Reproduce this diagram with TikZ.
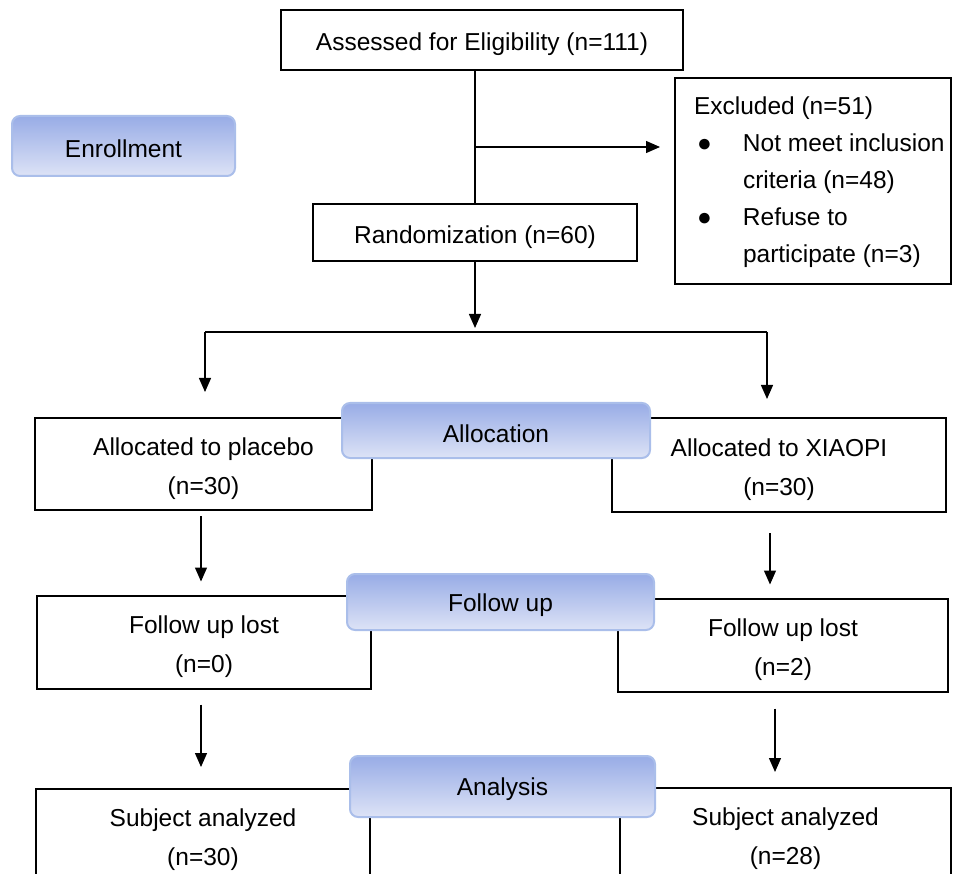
\documentclass[tikz,border=0pt]{standalone}
\usepackage{fontspec}
\setmainfont{Liberation Sans}
\usetikzlibrary{arrows.meta}

\definecolor{stagetop}{HTML}{98ACE6}
\definecolor{stagebot}{HTML}{DDE3F6}
\definecolor{stageline}{HTML}{AABEEA}

% lowers the text a little inside its box
\newcommand{\nudge}{\rule{0pt}{27pt}}

\tikzset{
  box/.style={draw, line width=2pt, align=center, inner sep=0pt},
  stage/.style={draw=stageline, line width=2pt, rounded corners=8pt,
    top color=stagetop, bottom color=stagebot, inner sep=0pt,
    execute at begin node={\rule{0pt}{24pt}}},
  arr/.style={line width=1.3pt, -{Triangle[width=12pt,length=14pt]}},
}

\begin{document}
\begin{tikzpicture}[x=1pt,y=-1pt,font=\fontsize{24.5}{39}\selectfont]

   \clip (0,0) rectangle (953,874);

   % enrollment
   \node[box, minimum width=402, minimum height=60] (assess) at (482,40) {\nudge Assessed for Eligibility (n=111)};
   \node[box, minimum width=324, minimum height=57] (rand) at (475,232.5) {\nudge Randomization (n=60)};
   \node[box, anchor=north west, minimum height=206] (excl) at (674,77)
      {\fontsize{24.5}{37}\selectfont
       \begin{tabular}{@{\hspace{19pt}}p{49pt}@{}l@{\hspace{6pt}}}
       \multicolumn{2}{@{\hspace{19pt}}l}{Excluded (n=51)}\\
       \hspace{3pt}● & Not meet inclusion\\
        & criteria (n=48)\\
       \hspace{3pt}● & Refuse to\\
        & participate (n=3)
       \end{tabular}};

   % allocation
   \node[box, minimum width=337, minimum height=92] (placebo) at (203.5,464) {\nudge Allocated to placebo\\(n=30)};
   \node[box, minimum width=334, minimum height=94] (xiaopi) at (779,465) {\nudge Allocated to XIAOPI\\(n=30)};

   % follow up
   \node[box, minimum width=334, minimum height=93] (lostA) at (204,642) {\nudge Follow up lost\\(n=0)};
   \node[box, minimum width=330, minimum height=93] (lostB) at (783,645) {\nudge Follow up lost\\(n=2)};

   % analysis
   \node[box, minimum width=334, minimum height=93] (anaA) at (203,835.5) {\nudge Subject analyzed\\(n=30)};
   \node[box, minimum width=331, minimum height=93] (anaB) at (785.5,834.5) {\nudge Subject analyzed\\(n=28)};

   % connectors
   \coordinate (branch) at (475,147);
   \coordinate (split) at (475,332);
   \coordinate (lsplit) at (205,332);
   \coordinate (rsplit) at (767,332);

   \draw[line width=2pt] (assess.south -| rand.north) -- (rand.north);
   \draw[arr, shorten >=14pt] (branch) -- (branch -| excl.west);
   \draw[arr, shorten >=4pt] (rand.south) -- (split);
   \draw[line width=2pt] (lsplit) -- (rsplit);
   \draw[arr, shorten >=25pt] (lsplit) -- (lsplit |- placebo.north);
   \draw[arr, shorten >=18pt] (rsplit) -- (rsplit |- xiaopi.north);

   \draw[arr, shorten <=5pt, shorten >=13pt] ([xshift=-2.5pt]placebo.south) -- ([xshift=-2.5pt]placebo.south |- lostA.north);
   \draw[arr, shorten <=20pt, shorten >=13pt] ([xshift=-9pt]xiaopi.south) -- ([xshift=-9pt]xiaopi.south |- lostB.north);
   \draw[arr, shorten <=15pt, shorten >=21pt] ([xshift=-3pt]lostA.south) -- ([xshift=-3pt]lostA.south |- anaA.north);
   \draw[arr, shorten <=16pt, shorten >=15pt] ([xshift=-8pt]lostB.south) -- ([xshift=-8pt]lostB.south |- anaB.north);

   % stage labels
   \node[stage, minimum width=223, minimum height=60] (enroll) at (123.5,146) {Enrollment};
   \node[stage, minimum width=308, minimum height=55] (alloc) at (496,430.5) {Allocation};
   \node[stage, minimum width=307, minimum height=56] (follow) at (500.5,602) {Follow up};
   \node[stage, minimum width=305, minimum height=61] (analysis) at (502.5,786.5) {Analysis};

\end{tikzpicture}
\end{document}
